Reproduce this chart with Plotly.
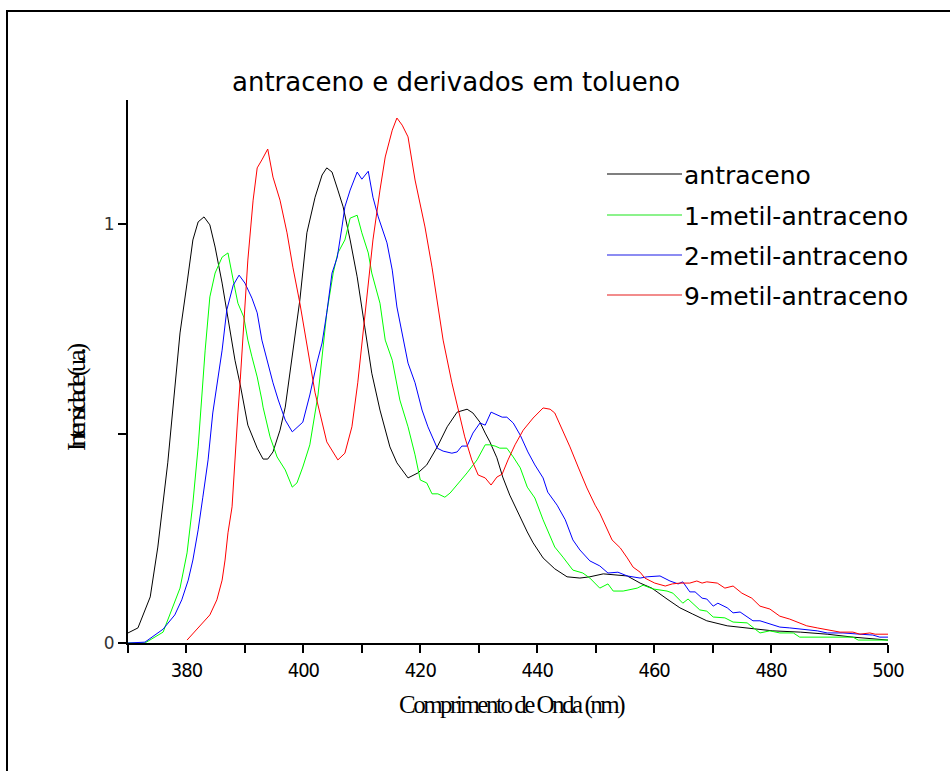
import plotly.graph_objects as go

# ---------------- data ----------------
antr_x = [370.0, 371.7, 373.8, 375.1, 376.8, 378.0, 378.9, 380.1, 381.1, 382.0, 383.0, 384.0, 384.9,
          386.1, 387.1, 388.3, 389.2, 390.5, 392.1, 393.1, 393.9, 394.8, 396.0, 396.9, 399.4, 400.6,
          402.0, 403.2, 404.0, 404.9, 405.9, 406.8, 408.0, 409.2, 410.5, 411.7, 413.1, 414.8, 416.0,
          417.9, 419.6, 421.1, 422.9, 424.6, 426.3, 428.0, 429.0, 430.2, 431.1, 431.9, 433.1, 434.1,
          435.3, 436.7, 438.3, 439.3, 441.0, 443.0, 445.1, 447.3, 449.0, 451.3, 455.4, 457.6, 459.6,
          462.2, 464.4, 466.6, 469.0, 472.5, 475.9, 480.3, 485.0, 489.6, 494.0, 498.6, 500.0]
antr_y = [0.024, 0.036, 0.110, 0.229, 0.430, 0.604, 0.740, 0.859, 0.962, 1.005, 1.017, 0.998, 0.945,
          0.859, 0.771, 0.675, 0.616, 0.520, 0.465, 0.439, 0.439, 0.456, 0.508, 0.563, 0.819, 0.979,
          1.064, 1.117, 1.134, 1.124, 1.081, 1.041, 0.962, 0.874, 0.754, 0.644, 0.556, 0.468, 0.430,
          0.394, 0.406, 0.425, 0.468, 0.516, 0.551, 0.558, 0.549, 0.527, 0.501, 0.480, 0.442, 0.396,
          0.353, 0.310, 0.265, 0.239, 0.203, 0.177, 0.158, 0.155, 0.158, 0.165, 0.160, 0.143, 0.131,
          0.105, 0.084, 0.069, 0.053, 0.041, 0.036, 0.029, 0.026, 0.021, 0.014, 0.010, 0.007]

m1_x = [370.0, 372.9, 376.0, 378.9, 380.1, 381.1, 382.0, 382.8, 383.2, 384.0, 384.9, 386.1, 387.1,
        388.0, 388.8, 389.8, 390.5, 391.2, 392.1, 392.9, 393.1, 394.3, 395.5, 396.9, 398.1, 398.9,
        399.9, 401.1, 402.5, 404.0, 405.1, 405.9, 407.1, 408.0, 409.2, 410.0, 411.1, 411.7, 413.1,
        414.0, 415.2, 416.5, 417.9, 419.1, 420.0, 421.1, 422.0, 423.0, 424.2, 425.1, 426.3, 428.0,
        429.7, 431.1, 431.9, 432.8, 433.6, 434.8, 435.9, 437.1, 438.3, 439.6, 441.0, 443.0, 444.4,
        446.1, 447.8, 449.0, 450.7, 452.1, 453.0, 454.7, 457.1, 458.1, 459.8, 462.2, 463.2, 464.9,
        465.8, 467.8, 469.0, 470.1, 472.1, 473.5, 475.9, 476.9, 478.1, 479.8, 481.5, 483.8, 484.9,
        485.8, 494.0, 494.9, 498.6, 500.0]
m1_y = [0.0, 0.0, 0.026, 0.131, 0.215, 0.334, 0.468, 0.628, 0.699, 0.826, 0.883, 0.921, 0.931,
        0.866, 0.811, 0.778, 0.723, 0.683, 0.635, 0.580, 0.563, 0.492, 0.444, 0.413, 0.372, 0.382,
        0.420, 0.473, 0.592, 0.788, 0.883, 0.931, 0.962, 1.014, 1.021, 0.979, 0.931, 0.883, 0.811,
        0.723, 0.675, 0.580, 0.516, 0.449, 0.389, 0.382, 0.356, 0.356, 0.348, 0.358, 0.377, 0.406,
        0.437, 0.473, 0.473, 0.470, 0.465, 0.465, 0.444, 0.418, 0.372, 0.346, 0.294, 0.229, 0.205,
        0.174, 0.167, 0.155, 0.131, 0.141, 0.124, 0.124, 0.131, 0.138, 0.129, 0.124, 0.119, 0.095,
        0.105, 0.079, 0.076, 0.062, 0.060, 0.050, 0.048, 0.038, 0.024, 0.029, 0.024, 0.024, 0.014,
        0.014, 0.014, 0.007, 0.007, 0.007]

m2_x = [370.0, 372.9, 376.0, 378.0, 379.2, 380.3, 381.1, 382.0, 382.8, 383.7, 384.5, 385.4, 386.1,
        386.9, 388.0, 389.0, 390.0, 391.2, 392.1, 392.9, 393.9, 394.8, 395.7, 396.9, 398.1, 399.1,
        399.9, 401.1, 402.3, 403.2, 404.0, 404.9, 405.8, 406.6, 407.1, 408.0, 409.2, 410.0, 411.1,
        411.9, 412.8, 414.3, 415.2, 416.0, 417.0, 417.9, 419.1, 420.3, 421.3, 422.9, 423.9, 425.4,
        426.3, 427.1, 428.0, 429.0, 430.2, 431.1, 432.1, 433.1, 434.0, 434.8, 435.9, 437.1, 438.4,
        439.6, 441.0, 441.8, 443.4, 444.8, 446.1, 447.3, 449.0, 450.7, 452.1, 453.8, 455.4, 457.6,
        458.8, 461.0, 462.7, 464.1, 464.9, 466.1, 467.0, 468.2, 469.0, 470.1, 470.9, 472.5, 473.5,
        474.7, 475.9, 476.9, 478.1, 479.3, 480.2, 481.5, 483.2, 484.9, 487.9, 489.6, 492.3, 495.2,
        497.4, 498.6, 500.0]
m2_y = [0.0, 0.002, 0.033, 0.067, 0.103, 0.150, 0.198, 0.270, 0.348, 0.437, 0.549, 0.628, 0.699,
        0.795, 0.854, 0.878, 0.859, 0.823, 0.788, 0.723, 0.668, 0.621, 0.580, 0.532, 0.504, 0.516,
        0.527, 0.592, 0.668, 0.716, 0.788, 0.883, 0.921, 0.993, 1.041, 1.081, 1.124, 1.107, 1.126,
        1.064, 1.017, 0.955, 0.890, 0.802, 0.730, 0.668, 0.621, 0.556, 0.516, 0.465, 0.458, 0.453,
        0.456, 0.470, 0.470, 0.501, 0.525, 0.520, 0.551, 0.544, 0.539, 0.539, 0.525, 0.496, 0.456,
        0.425, 0.394, 0.360, 0.329, 0.294, 0.246, 0.222, 0.196, 0.184, 0.167, 0.169, 0.160, 0.155,
        0.158, 0.160, 0.148, 0.141, 0.146, 0.122, 0.122, 0.107, 0.105, 0.088, 0.095, 0.084, 0.072,
        0.074, 0.062, 0.053, 0.053, 0.048, 0.045, 0.038, 0.036, 0.033, 0.029, 0.024, 0.024, 0.021,
        0.019, 0.014, 0.014]

m9_x = [380.1, 382.0, 384.0, 385.2, 386.1, 386.6, 387.1, 387.8, 388.3, 388.8, 389.2, 389.7, 390.5,
        391.4, 392.1, 392.9, 393.9, 394.8, 396.0, 397.2, 398.2, 399.4, 400.6, 402.0, 404.0, 405.9,
        407.1, 408.3, 409.3, 410.2, 411.1, 411.9, 413.1, 414.0, 415.2, 416.0, 416.9, 417.9, 419.1,
        420.8, 422.0, 422.9, 423.9, 425.4, 426.4, 427.6, 428.8, 429.9, 431.1, 432.1, 433.1, 434.0,
        435.0, 436.2, 437.6, 439.3, 441.0, 442.2, 443.0, 444.2, 445.6, 447.0, 448.5, 449.9, 450.7,
        452.8, 454.2, 455.4, 456.4, 457.6, 458.4, 460.1, 461.9, 463.1, 464.4, 466.1, 467.3, 468.2,
        469.0, 470.8, 472.1, 473.5, 475.0, 476.7, 478.1, 479.8, 481.5, 483.2, 484.6, 486.1, 487.9,
        490.1, 491.8, 494.0, 495.2, 496.9, 497.8, 500.0]
m9_y = [0.007, 0.036, 0.067, 0.103, 0.150, 0.198, 0.263, 0.325, 0.444, 0.549, 0.628, 0.740, 0.914,
        1.057, 1.134, 1.153, 1.179, 1.112, 1.057, 0.979, 0.897, 0.811, 0.711, 0.597, 0.480, 0.437,
        0.453, 0.516, 0.621, 0.740, 0.850, 0.962, 1.081, 1.160, 1.224, 1.253, 1.236, 1.208, 1.105,
        0.993, 0.897, 0.819, 0.723, 0.621, 0.563, 0.492, 0.437, 0.401, 0.394, 0.377, 0.396, 0.403,
        0.437, 0.473, 0.508, 0.537, 0.561, 0.558, 0.549, 0.513, 0.468, 0.420, 0.370, 0.329, 0.310,
        0.246, 0.227, 0.203, 0.181, 0.169, 0.155, 0.143, 0.136, 0.141, 0.143, 0.143, 0.148, 0.143,
        0.146, 0.143, 0.131, 0.136, 0.119, 0.107, 0.088, 0.081, 0.064, 0.057, 0.050, 0.041, 0.036,
        0.031, 0.026, 0.026, 0.021, 0.024, 0.021, 0.021]

series_names = ["antraceno", "1-metil-antraceno", "2-metil-antraceno", "9-metil-antraceno"]
series_x = [antr_x, m1_x, m2_x, m9_x]
series_y = [antr_y, m1_y, m2_y, m9_y]
series_colors = ["#000000", "#00ff00", "#0000ff", "#ff0000"]
legend_colors = ["#555555", "#66ee66", "#6666ee", "#ee6666"]

x_tickvals = list(range(370, 501, 10))
x_ticklabels = ["" if (v == 370 or v % 20 != 0) else str(v) for v in x_tickvals]
y_tickvals = [0, 0.5, 1]
y_ticklabels = ["0", "", "1"]

title_text = "antraceno e derivados em tolueno"
x_title = "Comprimento de Onda (nm)"
y_title = "Intensidade (u.a.)"

# ---------------- figure ----------------
W, H = 950, 771
L, R, T, B = 128, 62, 100, 128
pw, ph = W - L - R, H - T - B


def px_x(p):
    return (p - L) / pw


def px_y(p):
    return (H - B - p) / ph


fig = go.Figure()
for name, xs, ys, col in zip(series_names, series_x, series_y, series_colors):
    fig.add_trace(go.Scatter(x=xs, y=ys, mode="lines", name=name,
                             line=dict(color=col, width=1), showlegend=False))

x_ticktext = ['<span style="letter-spacing:-1px">%s</span>' % t if t else "" for t in x_ticklabels]

fig.update_layout(
    width=W, height=H,
    margin=dict(l=L, r=R, t=T, b=B, pad=0),
    paper_bgcolor="white", plot_bgcolor="white",
    xaxis=dict(range=[370, 500], showgrid=False, zeroline=False, showline=True,
               linecolor="black", linewidth=2, ticks="outside", ticklen=8, tickwidth=2,
               tickcolor="black", tickmode="array", tickvals=x_tickvals, ticktext=x_ticktext,
               tickfont=dict(family="Liberation Sans Narrow, DejaVu Sans Condensed, sans-serif",
                             size=20, color="black")),
    yaxis=dict(range=[0, 1.296], showgrid=False, zeroline=False, showline=True,
               linecolor="black", linewidth=2, ticks="outside", ticklen=8, tickwidth=2,
               tickcolor="black", tickmode="array", tickvals=y_tickvals, ticktext=y_ticklabels,
               tickfont=dict(family="DejaVu Sans, sans-serif", size=17, color="#333333")),
)

# outer frame
fig.add_shape(type="rect", xref="paper", yref="paper",
              x0=px_x(7), x1=px_x(1000), y0=px_y(820), y1=px_y(11),
              line=dict(color="black", width=2), fillcolor="rgba(0,0,0,0)", layer="below")

# title
fig.add_annotation(text=title_text, xref="paper", yref="paper", x=px_x(456), y=px_y(82),
                   xanchor="center", yanchor="middle", showarrow=False,
                   font=dict(family="DejaVu Sans, sans-serif", size=26, color="black"))

# axis titles (compressed serif as in the reference)
fig.add_annotation(text='<span style="letter-spacing:-2.5px">' + x_title + '</span>',
                   xref="paper", yref="paper", x=px_x(512), y=px_y(705),
                   xanchor="center", yanchor="middle", showarrow=False,
                   font=dict(family="Liberation Serif, serif", size=25, color="black"))
fig.add_annotation(text='<span style="letter-spacing:-4.3px">' + y_title + '</span>',
                   xref="paper", yref="paper", x=px_x(77), y=px_y(398), textangle=-90,
                   xanchor="center", yanchor="middle", showarrow=False,
                   font=dict(family="Liberation Serif, serif", size=26, color="black"))

# manual legend
leg_y = [174, 215, 255, 295]
for name, col, yy in zip(series_names, legend_colors, leg_y):
    fig.add_shape(type="line", xref="paper", yref="paper",
                  x0=px_x(607), x1=px_x(682), y0=px_y(yy), y1=px_y(yy),
                  line=dict(color=col, width=1.5))
    fig.add_annotation(text=name, xref="paper", yref="paper", x=px_x(682), y=px_y(yy + 1),
                       xanchor="left", yanchor="middle", showarrow=False,
                       font=dict(family="DejaVu Sans, sans-serif", size=25, color="black"))

fig.write_html("out.html")
